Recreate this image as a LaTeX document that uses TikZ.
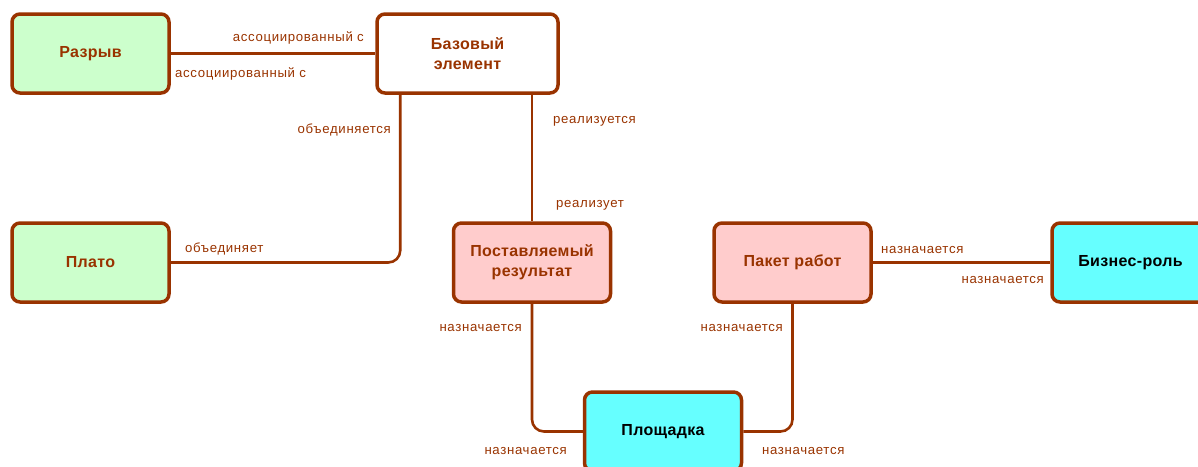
\documentclass[tikz,border=0pt]{standalone}
\usepackage{fontspec}
\setmainfont{Liberation Sans}
\usepackage{tikz}
\usetikzlibrary{positioning}
\definecolor{rust}{HTML}{993300}
\definecolor{gapgreen}{HTML}{CCFFCC}
\definecolor{delivpink}{HTML}{FFCCCC}
\definecolor{sitecyan}{HTML}{66FFFF}
\tikzset{
  % style of every element box
  elem/.style={
    draw=rust, line width=3.5pt, rounded corners=8pt,
    minimum width=157pt, minimum height=79pt,
    align=center, text=rust,
    font=\fontsize{16}{20}\selectfont\bfseries\addfontfeature{LetterSpace=2}
  },
  % element kinds
  impl/.style={elem, fill=gapgreen},
  motiv/.style={elem, fill=white, minimum width=181pt},
  deliv/.style={elem, fill=delivpink},
  actor/.style={elem, fill=sitecyan, text=black},
  % connector and its end labels
  link/.style={draw=rust, line width=2.6pt, rounded corners=12pt},
  lbl/.style={text=rust, inner sep=0pt,
    font=\fontsize{13.2}{15}\selectfont\addfontfeature{LetterSpace=5}},
}

\begin{document}
\begin{tikzpicture}[x=1pt, y=-1pt]
\useasboundingbox (0,0) rectangle (1198,466);

% Elements
\node[impl]  (gap)   at (90.5,53.5)   {Разрыв};
\node[motiv] (base)  at (467.5,53.5)  {Базовый\\элемент};
\node[impl]  (plato) at (90.5,262.5)  {Плато};
\node[deliv] (res)   at (532,262.5)   {Поставляемый\\результат};
\node[deliv] (wp)    at (792.5,262.5) {Пакет работ};
\node[actor] (role)  at (1130.5,262.5) {Бизнес-роль};
\node[actor] (site)  at (663,431.5)   {Площадка};

% Connectors
\draw[link] (gap.east) -- (base.west);
\draw[link] ([xshift=25pt]base.south west) |- (plato.east);
\draw[link] (res.north |- base.south) -- (res.north);
\draw[link] (res.south) |- (site.west);
\draw[link] (wp.south) |- (site.east);
\draw[link] (wp.east) -- (role.west);

% Labels
\node[lbl, anchor=base east] (a1) at (364,41)  {ассоциированный с};
\node[lbl, anchor=base west] (a2) at (175,77)  {ассоциированный с};
\node[lbl, anchor=base east] (o1) at (391,133) {объединяется};
\node[lbl, anchor=base west] (o2) at (185,252) {объединяет};
\node[lbl, anchor=base west] (r1) at (553,123) {реализуется};
\node[lbl, anchor=base west] (r2) at (556,207) {реализует};
\node[lbl, anchor=base east] (n1) at (522,331) {назначается};
\node[lbl, anchor=base east] (n2) at (567,454) {назначается};
\node[lbl, anchor=base east] (n3) at (783,331) {назначается};
\node[lbl, anchor=base west] (n4) at (762,454) {назначается};
\node[lbl, anchor=base west] (n5) at (881,253) {назначается};
\node[lbl, anchor=base east] (n6) at (1044,283) {назначается};

\end{tikzpicture}
\end{document}
